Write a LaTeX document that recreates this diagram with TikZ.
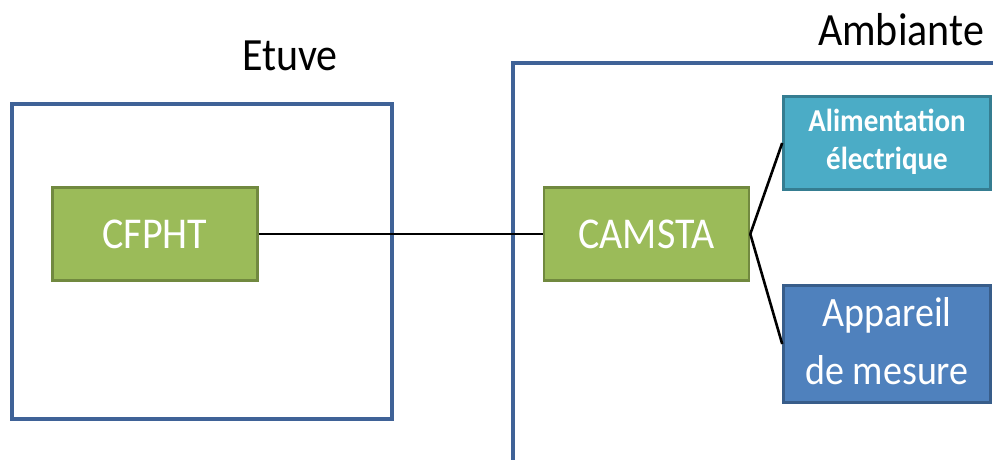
\documentclass[tikz,border=0pt]{standalone}
\usepackage{fontspec}
\setmainfont{Carlito}
\definecolor{frame}{HTML}{3F6297}
\definecolor{grn}{HTML}{9BBB59}
\definecolor{grnb}{HTML}{71893F}
\definecolor{cyn}{HTML}{4BACC6}
\definecolor{cynb}{HTML}{357D91}
\definecolor{blu}{HTML}{4F81BD}
\definecolor{blub}{HTML}{385D8A}
\newcommand{\vstr}[1]{\scalebox{1}[1.1]{#1}}
\begin{document}
\begin{tikzpicture}[x=1pt,y=-1pt,
  zone/.style={draw=frame, line width=3.6pt},
  title/.style={anchor=base, inner sep=0pt, font=\fontsize{42}{46}\selectfont},
  unit/.style={rectangle, line width=2.6pt, text=white, inner sep=0pt, align=center},
  gbox/.style={unit, fill=grn, draw=grnb, minimum width=205pt, minimum height=93pt, font=\fontsize{40}{44}\selectfont},
  link/.style={draw=black, line width=2.6pt}]
\useasboundingbox (0,0) rectangle (993,459);
% zones
\node[zone, rectangle, minimum width=380pt, minimum height=315pt, inner sep=0pt] (etuve) at (202,261.5) {};
\coordinate (amtr) at (996,63);
\coordinate (ambl) at (513,462);
\draw[zone] (amtr) -- (513,63) -- (ambl);
\node[title] (etuvelbl) at (290,70) {\vstr{Etuve}};
\node[title] (amblbl) at (901,45) {\vstr{Ambiante}};
% units
\node[gbox] (cfpht) at (155,234) {\vstr{CFPHT}};
\node[gbox] (camsta) at (646.5,234) {\vstr{CAMSTA}};
\node[unit, fill=cyn, draw=cynb, minimum width=207pt, minimum height=93pt,
      font=\bfseries\fontsize{29}{35}\selectfont] (alim) at (887,143)
      {\vstr{\begin{tabular}{@{}c@{}}Alimentation\\[0pt]électrique\end{tabular}}};
\node[unit, fill=blu, draw=blub, minimum width=207pt, minimum height=117pt,
      font=\fontsize{38}{52}\selectfont] (app) at (887,344)
      {\vstr{\begin{tabular}{@{}c@{}}Appareil\\[0pt]de mesure\end{tabular}}};
% connectors
\draw[link] (cfpht.east) -- (camsta.west);
\draw[link] (camsta.east) -- (alim.west);
\draw[link] (camsta.east) -- (app.west);
\end{tikzpicture}
\end{document}
